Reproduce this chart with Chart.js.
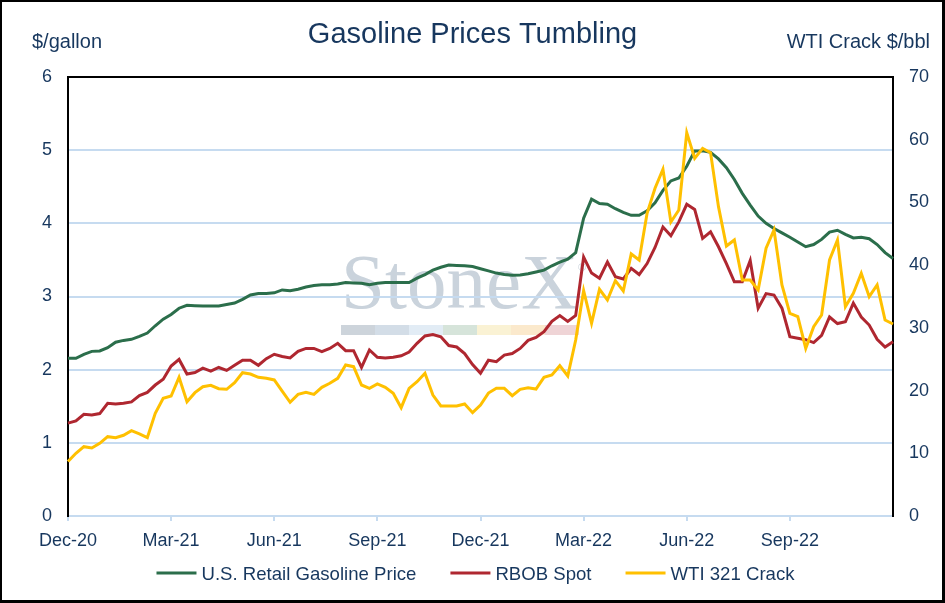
<html>
    <head>
        <script src="https://cdn.jsdelivr.net/npm/chart.js@4.4.0/dist/chart.umd.min.js"></script>
        <style>
            body { margin: 0; background: #fff; }
            canvas { display: block; }
        </style>
    </head>
    <body>
        <canvas id="gasChart" width="945" height="603"></canvas>

        <script>
            // weekly observations, first week of Dec-20 to end of Nov-22
            var firstWeek = new Date(2020, 11, 1);
            var weekCount = 105;
            var weeks = [];
            for (var w = 0; w < weekCount; w++) {
                var d = new Date(firstWeek.getTime() + w * 7 * 86400000);
                weeks.push(d.toISOString().slice(0, 10));
            }

            // quarterly axis labels, one every 13 weeks
            var tickLabels = ['Dec-20', 'Mar-21', 'Jun-21', 'Sep-21', 'Dec-21', 'Mar-22', 'Jun-22', 'Sep-22'];
            var weeksPerTick = 13;

            // $/gallon
            var retailGas = [
                2.155, 2.155, 2.21, 2.25, 2.255, 2.30, 2.375, 2.40, 2.415, 2.455, 2.50, 2.60, 2.69, 2.755,
                2.84, 2.88, 2.875, 2.87, 2.87, 2.87, 2.89, 2.91, 2.96, 3.02, 3.04, 3.04, 3.05,
                3.09, 3.08, 3.10, 3.13, 3.15, 3.16, 3.16, 3.17, 3.19, 3.185, 3.18, 3.16, 3.18,
                3.19, 3.19, 3.19, 3.19, 3.25, 3.30, 3.36, 3.40, 3.43, 3.425, 3.42, 3.41,
                3.38, 3.35, 3.32, 3.30, 3.29, 3.295, 3.31, 3.335, 3.36, 3.42, 3.47, 3.51, 3.60,
                4.07, 4.33, 4.27, 4.26, 4.20, 4.15, 4.11, 4.11, 4.17, 4.28, 4.45,
                4.58, 4.62, 4.78, 4.99, 4.99, 4.97, 4.88, 4.76, 4.60, 4.41, 4.25, 4.10, 4.00, 3.93,
                3.87, 3.81, 3.745, 3.68, 3.71, 3.78, 3.88, 3.905, 3.85, 3.80, 3.81, 3.79, 3.71, 3.60, 3.52
            ];
            var rbobSpot = [
                1.27, 1.30, 1.39, 1.38, 1.40, 1.54, 1.53, 1.54, 1.56, 1.645, 1.69, 1.79, 1.87, 2.05,
                2.14, 1.94, 1.96, 2.02, 1.98, 2.03, 1.99, 2.06, 2.13, 2.13, 2.06, 2.15, 2.21,
                2.18, 2.16, 2.25, 2.29, 2.29, 2.245, 2.29, 2.36, 2.26, 2.26, 2.03, 2.27, 2.17,
                2.16, 2.17, 2.19, 2.24, 2.36, 2.46, 2.48, 2.45, 2.33, 2.31, 2.22, 2.07,
                1.95, 2.13, 2.11, 2.20, 2.22, 2.29, 2.40, 2.44, 2.52, 2.66, 2.74, 2.66, 2.74,
                3.54, 3.32, 3.25, 3.47, 3.27, 3.24, 3.385, 3.30, 3.45, 3.67, 3.95, 3.83, 4.02, 4.26, 4.19,
                3.795, 3.885, 3.68, 3.45, 3.20, 3.20, 3.49, 2.84, 3.04, 3.02, 2.84, 2.45, 2.43,
                2.41, 2.37, 2.47, 2.72, 2.63, 2.655, 2.91, 2.72, 2.61, 2.415, 2.31, 2.38
            ];
            // $/bbl
            var wtiCrack = [
                8.7, 10.0, 11.05, 10.84, 11.59, 12.65, 12.49, 12.87, 13.6, 13.08, 12.49, 16.37, 18.77, 19.13,
                22.11, 18.23, 19.67, 20.62, 20.84, 20.3, 20.2, 21.26, 22.85, 22.64, 22.11, 21.95, 21.7,
                19.9, 18.13, 19.40, 19.72, 19.40, 20.52, 21.16, 21.95, 24.08, 23.81, 20.89, 20.36, 21.05,
                20.52, 19.56, 17.27, 20.36, 21.42, 22.75, 19.29, 17.54, 17.54, 17.54, 17.86, 16.48,
                17.7, 19.6, 20.36, 20.36, 19.19, 20.2, 20.46, 20.25, 22.11, 22.48, 23.97, 22.32, 28.07,
                35.93, 30.72, 36.15, 34.44, 37.52, 35.88, 41.78, 40.82, 48.27, 52.26, 55.29, 46.88, 48.80,
                61.13, 57.04, 58.63, 57.94, 49.33, 43.05, 44.01, 37.63, 37.63, 36.04, 42.69, 45.61, 36.84,
                32.32, 31.79, 26.74, 30.19, 32.05, 40.82, 44.01, 33.38, 35.51, 38.70, 34.97, 36.84, 31.25, 30.62
            ];

            var navy = '#17375E';
            var gridBlue = '#C6DBF0';
            var fontName = '"Liberation Sans", Arial, sans-serif';

            // background, watermark, titles, legend and frame
            var decorations = {
                id: 'decorations',
                beforeDraw: function(chart) {
                    var ctx = chart.ctx;
                    ctx.save();
                    ctx.fillStyle = '#fff';
                    ctx.fillRect(0, 0, chart.width, chart.height);

                    ctx.fillStyle = '#CAD3DC';
                    ctx.font = '79px "Liberation Serif", "Times New Roman", serif';
                    ctx.fillText('StoneX', 341, 308);
                    ctx.font = '11px ' + fontName;
                    ctx.fillText('\u00AE', 578, 271);
                    var bar = ['#CDD4DB', '#D3DDE7', '#E2ECF5', '#D6E4DA', '#FAF2D4', '#FBE9CC', '#EFD4D6'];
                    bar.forEach(function(c, k) {
                        ctx.fillStyle = c;
                        ctx.fillRect(341 + k * 34, 325, 34, 10);
                    });
                    ctx.restore();
                },
                afterDraw: function(chart) {
                    var ctx = chart.ctx;
                    var a = chart.chartArea;
                    ctx.save();

                    // top edge of the plot box
                    ctx.strokeStyle = '#000';
                    ctx.lineWidth = 2;
                    ctx.beginPath();
                    ctx.moveTo(a.left - 1, a.top);
                    ctx.lineTo(a.right + 1, a.top);
                    ctx.stroke();

                    ctx.fillStyle = navy;
                    ctx.textBaseline = 'alphabetic';
                    ctx.font = '29px ' + fontName;
                    ctx.textAlign = 'center';
                    ctx.fillText('Gasoline Prices Tumbling', 472.5, 43);

                    ctx.font = '20px ' + fontName;
                    ctx.textAlign = 'left';
                    ctx.fillText('$/gallon', 32, 48);
                    ctx.textAlign = 'right';
                    ctx.fillText('WTI Crack $/bbl', 930, 48);

                    // legend: line sample, then label
                    ctx.font = '18.6px ' + fontName;
                    ctx.textAlign = 'left';
                    var items = chart.data.datasets;
                    var lineLen = 40, gap = 5, spacing = 34;
                    var total = 0;
                    items.forEach(function(ds, k) {
                        total += lineLen + gap + ctx.measureText(ds.label).width;
                        if (k < items.length - 1) total += spacing;
                    });
                    var x = 475.5 - total / 2;
                    var y = 573;
                    items.forEach(function(ds) {
                        ctx.strokeStyle = ds.borderColor;
                        ctx.lineWidth = 3;
                        ctx.beginPath();
                        ctx.moveTo(x, y);
                        ctx.lineTo(x + lineLen, y);
                        ctx.stroke();
                        x += lineLen + gap;
                        ctx.fillStyle = navy;
                        ctx.fillText(ds.label, x, y + 6.5);
                        x += ctx.measureText(ds.label).width + spacing;
                    });

                    // outer frame of the picture
                    ctx.fillStyle = '#000';
                    ctx.fillRect(0, 0, chart.width, 2);
                    ctx.fillRect(0, 0, 2, chart.height);
                    ctx.fillRect(chart.width - 3, 0, 3, chart.height);
                    ctx.fillRect(0, chart.height - 3, chart.width, 3);
                    ctx.restore();
                }
            };

            var ctx = document.getElementById('gasChart').getContext('2d');
            var chart = new Chart(ctx, {
                type: 'line',
                data: {
                    labels: weeks,
                    datasets: [{
                        label: 'U.S. Retail Gasoline Price',
                        data: retailGas,
                        borderColor: '#2B6E4B',
                        backgroundColor: '#2B6E4B',
                        yAxisID: 'y',
                        order: 3
                    }, {
                        label: 'RBOB Spot',
                        data: rbobSpot,
                        borderColor: '#AF2730',
                        backgroundColor: '#AF2730',
                        yAxisID: 'y',
                        order: 2
                    }, {
                        label: 'WTI 321 Crack',
                        data: wtiCrack,
                        borderColor: '#FFC000',
                        backgroundColor: '#FFC000',
                        yAxisID: 'y2',
                        order: 1
                    }]
                },
                plugins: [decorations],
                options: {
                    responsive: false,
                    animation: false,
                    devicePixelRatio: 1,
                    layout: { padding: { top: 77, bottom: 47, left: 0, right: 0 } },
                    elements: {
                        line: { borderWidth: 3, tension: 0 },
                        point: { radius: 0 }
                    },
                    plugins: {
                        legend: { display: false },
                        title: { display: false },
                        tooltip: { enabled: false }
                    },
                    scales: {
                        x: {
                            offset: false,
                            grid: {
                                drawOnChartArea: false,
                                color: gridBlue,
                                lineWidth: 2,
                                tickLength: 5
                            },
                            border: { color: gridBlue, width: 2 },
                            ticks: {
                                autoSkip: false,
                                maxRotation: 0,
                                padding: 9,
                                color: navy,
                                font: { family: fontName, size: 18 },
                                callback: function(value) {
                                    return tickLabels[value / weeksPerTick];
                                }
                            },
                            afterBuildTicks: function(scale) {
                                scale.ticks = scale.ticks.filter(function(t) {
                                    return t.value % weeksPerTick === 0;
                                });
                            },
                            afterFit: function(scale) {
                                scale.height = 40;
                                scale.paddingLeft = 0;
                                scale.paddingRight = 0;
                            }
                        },
                        y: {
                            position: 'left',
                            min: 0,
                            max: 6,
                            grid: { color: gridBlue, lineWidth: 2, drawTicks: false },
                            border: { color: '#000', width: 2 },
                            ticks: {
                                stepSize: 1,
                                padding: 16,
                                color: navy,
                                font: { family: fontName, size: 18 }
                            },
                            afterFit: function(scale) {
                                scale.width = 68;
                                scale.paddingTop = 0;
                                scale.paddingBottom = 0;
                            }
                        },
                        y2: {
                            position: 'right',
                            min: 0,
                            max: 70,
                            grid: { drawOnChartArea: false, drawTicks: false },
                            border: { color: '#000', width: 2 },
                            ticks: {
                                stepSize: 10,
                                padding: 16,
                                color: navy,
                                font: { family: fontName, size: 18 }
                            },
                            afterFit: function(scale) {
                                scale.width = 52;
                                scale.paddingTop = 0;
                                scale.paddingBottom = 0;
                            }
                        }
                    }
                }
            });
        </script>
    </body>
</html>
